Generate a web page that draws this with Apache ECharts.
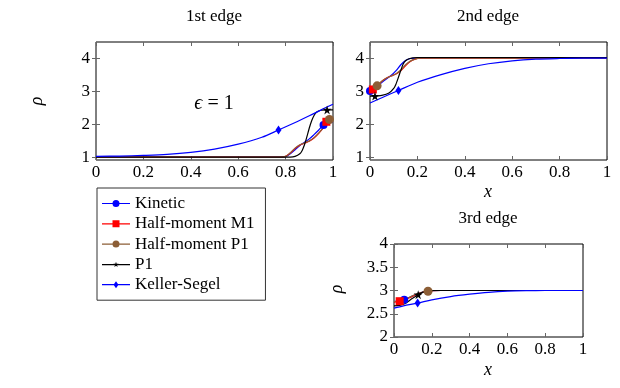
<!DOCTYPE html>
<html>
<head>
<meta charset="utf-8">
<script src="https://cdn.jsdelivr.net/npm/echarts@6/dist/echarts.min.js"></script>
<style>html,body{margin:0;padding:0;background:#fff}#c{width:620px;height:388px}</style>
</head>
<body>
<div id="c"></div>
<script>
// ---------- data ----------
const seriesNames = ['Kinetic', 'Half-moment M1', 'Half-moment P1', 'P1', 'Keller-Segel'];
const xTicks = [0, 0.2, 0.4, 0.6, 0.8, 1];
const yTicksTop = [1, 2, 3, 4];
const yTicksEdge3 = [2, 2.5, 3, 3.5, 4];
const titles = ['1st edge', '2nd edge', '3rd edge'];

// 1st edge
const e1_kin_x = [0, 0.5, 0.78, 0.8, 0.82, 0.84, 0.86, 0.88, 0.9, 0.92, 0.94, 0.96, 0.98, 1.0];
const e1_kin_y = [1, 1, 1, 1.01, 1.1, 1.22, 1.35, 1.45, 1.55, 1.68, 1.82, 1.97, 2.03, 2.06];
const e1_kin_m = 11;
const e1_m1_x = [0, 0.5, 0.78, 0.8, 0.82, 0.84, 0.86, 0.88, 0.9, 0.92, 0.94, 0.96, 0.972, 0.985, 1.0];
const e1_m1_y = [1, 1, 1, 1.02, 1.12, 1.26, 1.36, 1.42, 1.48, 1.58, 1.72, 1.9, 2.07, 2.12, 2.15];
const e1_m1_m = 12;
const e1_hp_x = [0, 0.5, 0.78, 0.8, 0.82, 0.84, 0.86, 0.88, 0.9, 0.92, 0.94, 0.96, 0.972, 0.985, 1.0];
const e1_hp_y = [1, 1, 1, 1.02, 1.13, 1.27, 1.37, 1.43, 1.49, 1.59, 1.73, 1.91, 2.05, 2.14, 2.17];
const e1_hp_m = 13;
const e1_p1_x = [0, 0.5, 0.82, 0.84, 0.86, 0.87, 0.88, 0.89, 0.9, 0.91, 0.92, 0.93, 0.95, 0.975, 1.0];
const e1_p1_y = [1, 1, 1, 1.02, 1.1, 1.2, 1.38, 1.62, 1.88, 2.1, 2.26, 2.36, 2.42, 2.43, 2.43];
const e1_p1_m = 13;
const e1_ks_x = [0, 0.1, 0.2, 0.3, 0.4, 0.5, 0.6, 0.7, 0.77, 0.85, 0.9, 0.95, 1.0];
const e1_ks_y = [1.02, 1.03, 1.05, 1.08, 1.14, 1.24, 1.39, 1.6, 1.82, 2.08, 2.25, 2.43, 2.6];
const e1_ks_m = 8;

// 2nd edge
const e2_kin_x = [0, 0.03, 0.06, 0.09, 0.11, 0.13, 0.15, 0.17, 0.2, 0.3, 1.0];
const e2_kin_y = [3.0, 3.15, 3.32, 3.48, 3.62, 3.8, 3.93, 3.99, 4.0, 4.0, 4.0];
const e2_kin_m = 0;
const e2_m1_x = [0, 0.012, 0.03, 0.05, 0.07, 0.09, 0.11, 0.13, 0.15, 0.17, 0.19, 0.21, 0.25, 0.4, 1.0];
const e2_m1_y = [3.02, 3.05, 3.15, 3.3, 3.4, 3.46, 3.52, 3.62, 3.77, 3.9, 3.97, 4.0, 4.0, 4.0, 4.0];
const e2_m1_m = 1;
const e2_hp_x = [0, 0.012, 0.03, 0.05, 0.07, 0.09, 0.11, 0.13, 0.15, 0.17, 0.19, 0.21, 0.25, 0.4, 1.0];
const e2_hp_y = [3.05, 3.09, 3.16, 3.3, 3.4, 3.46, 3.53, 3.64, 3.8, 3.91, 3.97, 4.0, 4.0, 4.0, 4.0];
const e2_hp_m = 2;
const e2_p1_x = [0, 0.021, 0.05, 0.08, 0.1, 0.11, 0.12, 0.13, 0.14, 0.15, 0.165, 0.18, 0.2, 1.0];
const e2_p1_y = [2.85, 2.85, 2.87, 2.94, 3.08, 3.22, 3.42, 3.63, 3.82, 3.92, 3.98, 4.01, 4.02, 4.02];
const e2_p1_m = 1;
const e2_ks_x = [0, 0.05, 0.12, 0.2, 0.3, 0.4, 0.5, 0.6, 0.7, 0.8, 0.9, 1.0];
const e2_ks_y = [2.64, 2.8, 3.02, 3.27, 3.5, 3.69, 3.83, 3.92, 3.97, 3.99, 4.0, 4.0];
const e2_ks_m = 2;

// 3rd edge
const e3_kin_x = [0, 0.054, 0.08, 0.11, 0.14, 0.17, 0.2, 0.25, 0.4, 1.0];
const e3_kin_y = [2.76, 2.8, 2.85, 2.9, 2.95, 2.98, 2.995, 3.0, 3.0, 3.0];
const e3_kin_m = 1;
const e3_m1_x = [0, 0.03, 0.05, 0.08, 0.11, 0.14, 0.18, 0.2, 0.25, 1.0];
const e3_m1_y = [2.75, 2.77, 2.8, 2.84, 2.9, 2.95, 2.985, 2.995, 3.0, 3.0];
const e3_m1_m = 1;
const e3_hp_x = [0, 0.03, 0.05, 0.08, 0.11, 0.14, 0.18, 0.2, 0.25, 1.0];
const e3_hp_y = [2.76, 2.78, 2.81, 2.85, 2.91, 2.95, 2.985, 2.995, 3.0, 3.0];
const e3_hp_m = 6;
const e3_p1_x = [0, 0.03, 0.06, 0.09, 0.128, 0.15, 0.18, 0.21, 0.3, 1.0];
const e3_p1_y = [2.67, 2.68, 2.72, 2.81, 2.91, 2.96, 2.995, 3.0, 3.0, 3.0];
const e3_p1_m = 4;
const e3_ks_x = [0, 0.05, 0.125, 0.2, 0.3, 0.4, 0.5, 0.6, 0.7, 0.8, 1.0];
const e3_ks_y = [2.62, 2.67, 2.73, 2.8, 2.87, 2.92, 2.96, 2.985, 2.996, 3.0, 3.0];
const e3_ks_m = 2;

// ---------- styling ----------
const FONT = 'Liberation Serif';
const STAR = 'path://M0,-1 L0.22,-0.31 L0.95,-0.31 L0.36,0.12 L0.59,0.81 L0,0.38 L-0.59,0.81 L-0.36,0.12 L-0.95,-0.31 L-0.22,-0.31 Z';
const LINE = 'M0,4.4 L28,4.4 L28,5.6 L0,5.6 Z ';
const styles = {
  'Kinetic': {color: '#0000ff', symbol: 'circle', size: 8,
    icon: 'path://' + LINE + 'M14,1.5 A3.5,3.5 0 1,1 14,8.5 A3.5,3.5 0 1,1 14,1.5 Z'},
  'Half-moment M1': {color: '#ff0000', symbol: 'rect', size: 8,
    icon: 'path://' + LINE + 'M10.5,1.5 L17.5,1.5 L17.5,8.5 L10.5,8.5 Z'},
  'Half-moment P1': {color: '#8c5e36', symbol: 'circle', size: 9,
    icon: 'path://' + LINE + 'M14,1.5 A3.5,3.5 0 1,1 14,8.5 A3.5,3.5 0 1,1 14,1.5 Z'},
  'P1': {color: '#000000', symbol: STAR, size: 9,
    icon: 'path://' + LINE + 'M14,2.2 L14.65,4.1 L16.7,4.1 L15.05,5.3 L15.65,7.3 L14,6.1 L12.35,7.3 L12.95,5.3 L11.3,4.1 L13.35,4.1 Z'},
  'Keller-Segel': {color: '#0000ff', symbol: 'diamond', size: [6, 9],
    icon: 'path://' + LINE + 'M14,1.5 L16.5,5 L14,8.5 L11.5,5 Z'}
};

const edges = [
  [[e1_kin_x, e1_kin_y, e1_kin_m], [e1_m1_x, e1_m1_y, e1_m1_m], [e1_hp_x, e1_hp_y, e1_hp_m], [e1_p1_x, e1_p1_y, e1_p1_m], [e1_ks_x, e1_ks_y, e1_ks_m]],
  [[e2_kin_x, e2_kin_y, e2_kin_m], [e2_m1_x, e2_m1_y, e2_m1_m], [e2_hp_x, e2_hp_y, e2_hp_m], [e2_p1_x, e2_p1_y, e2_p1_m], [e2_ks_x, e2_ks_y, e2_ks_m]],
  [[e3_kin_x, e3_kin_y, e3_kin_m], [e3_m1_x, e3_m1_y, e3_m1_m], [e3_hp_x, e3_hp_y, e3_hp_m], [e3_p1_x, e3_p1_y, e3_p1_m], [e3_ks_x, e3_ks_y, e3_ks_m]]
];

const grids = [
  {left: 96, top: 42, width: 237, height: 118},
  {left: 370, top: 42, width: 237, height: 118},
  {left: 394, top: 244, width: 189, height: 93}
];
const yRanges = [[0.91, 4.49, yTicksTop], [0.91, 4.49, yTicksTop], [2, 4, yTicksEdge3]];

const tickStyle = {show: true, inside: true, length: 4, lineStyle: {color: '#666', width: 1}};
const labelStyle = {color: '#000', fontFamily: FONT, fontSize: 17};

const xAxis = [], yAxis = [], series = [];
grids.forEach((g, gi) => {
  xAxis.push({type: 'value', gridIndex: gi, position: 'bottom', min: 0, max: 1,
    axisLine: {show: false}, splitLine: {show: false},
    axisLabel: Object.assign({margin: 4, customValues: xTicks}, labelStyle),
    axisTick: Object.assign({customValues: xTicks}, tickStyle)});
  xAxis.push({type: 'value', gridIndex: gi, position: 'top', min: 0, max: 1,
    axisLine: {show: false}, splitLine: {show: false},
    axisLabel: {show: false}, axisTick: Object.assign({customValues: xTicks}, tickStyle)});
  const yr = yRanges[gi];
  yAxis.push({type: 'value', gridIndex: gi, position: 'left', min: yr[0], max: yr[1],
    axisLine: {show: false}, splitLine: {show: false},
    axisLabel: Object.assign({margin: 6, customValues: yr[2]}, labelStyle),
    axisTick: Object.assign({customValues: yr[2]}, tickStyle)});
  yAxis.push({type: 'value', gridIndex: gi, position: 'right', min: yr[0], max: yr[1],
    axisLine: {show: false}, splitLine: {show: false},
    axisLabel: {show: false}, axisTick: Object.assign({customValues: yr[2]}, tickStyle)});

  edges[gi].forEach((c, si) => {
    const name = seriesNames[si];
    const st = styles[name];
    const xs = c[0], ys = c[1], mi = c[2];
    series.push({
      type: 'line', name: name, xAxisIndex: 2 * gi, yAxisIndex: 2 * gi,
      data: xs.map((x, i) => i === mi ? {value: [x, ys[i]]} : {value: [x, ys[i]], symbol: 'none'}),
      symbol: st.symbol, symbolSize: st.size, showSymbol: true, showAllSymbol: true,
      smooth: 0.3, clip: false,
      lineStyle: {color: st.color, width: 1.2},
      itemStyle: {color: st.color, borderWidth: 0},
      emphasis: {disabled: true}, silent: true
    });
  });
});

const gText = (text, x, y, opts) => Object.assign({
  type: 'text', x: x, y: y,
  style: Object.assign({text: text, fill: '#000', font: '17px ' + FONT, textAlign: 'center', textVerticalAlign: 'middle'}, (opts && opts.style) || {})
}, opts && opts.rotation ? {rotation: opts.rotation} : {});

const option = {
  animation: false,
  backgroundColor: '#fff',
  grid: grids.map(g => Object.assign({show: true, borderColor: '#000', borderWidth: 1, backgroundColor: 'transparent', containLabel: false}, g)),
  xAxis: xAxis, yAxis: yAxis, series: series,
  legend: {
    data: seriesNames.map(n => ({name: n, icon: styles[n].icon})),
    orient: 'vertical', left: 97, top: 188,
    itemWidth: 28, itemHeight: 10, itemGap: 3.3,
    padding: [7, 11, 7, 5],
    borderColor: '#333', borderWidth: 1, backgroundColor: '#fff',
    selectedMode: false,
    itemStyle: {borderWidth: 0},
    textStyle: {color: '#000', fontFamily: FONT, fontSize: 17, lineHeight: 17}
  },
  graphic: [
    gText(titles[0], 214, 17),
    gText(titles[1], 488, 17),
    gText(titles[2], 488, 219),
    gText('x', 488, 192, {style: {font: 'italic 18px ' + FONT}}),
    gText('x', 488, 370, {style: {font: 'italic 18px ' + FONT}}),
    gText('ρ', 37, 101, {rotation: Math.PI / 2, style: {font: 'italic 18px ' + FONT}}),
    gText('ρ', 337, 289, {rotation: Math.PI / 2, style: {font: 'italic 18px ' + FONT}}),
    {type: 'text', x: 214, y: 104, style: {
      text: '{e|ϵ} = 1', fill: '#000', font: '20px ' + FONT, textAlign: 'center', textVerticalAlign: 'middle',
      rich: {e: {fontFamily: FONT, fontStyle: 'italic', fontSize: 20, fill: '#000'}}
    }}
  ]
};

const chart = echarts.init(document.getElementById('c'), null, {renderer: 'canvas'});
chart.setOption(option);
</script>
</body>
</html>
